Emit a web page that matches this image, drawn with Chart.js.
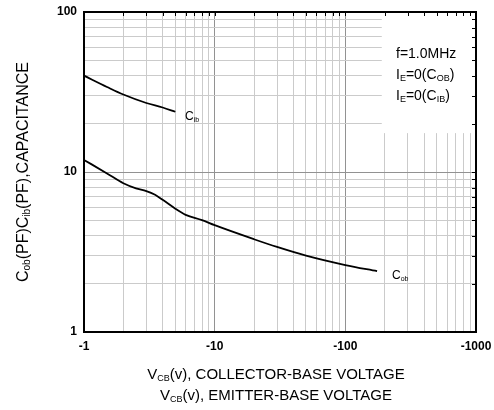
<!DOCTYPE html>
<html>
<head>
<meta charset="utf-8">
<script src="https://cdn.jsdelivr.net/npm/chart.js@4.4.0/dist/chart.umd.min.js"></script>
<style>
  body { margin: 0; background: #fff; }
  canvas { display: block; }
</style>
</head>
<body>
<canvas id="capChart" width="494" height="410"></canvas>
<script>
// reverse bias voltage (V) and capacitance (pF)
const vcbCib = [-1, -1.5, -2, -3, -4, -5];
const cib = [40, 34, 30.5, 27, 25.3, 23.8];

const vcbCob = [-1, -1.5, -2, -2.5, -3, -3.5, -4, -5, -6, -8, -10, -20, -30, -50, -100, -175];
const cob = [11.9, 9.8, 8.5, 7.9, 7.6, 7.2, 6.7, 5.9, 5.4, 5.0, 4.65, 3.8, 3.4, 3.0, 2.62, 2.4];

const xTicks = [1, 2, 3, 4, 5, 6, 7, 8, 9, 10, 20, 30, 40, 50, 60, 70, 80, 90, 100,
  200, 300, 400, 500, 600, 700, 800, 900, 1000];
const yTicks = [1, 2, 3, 4, 5, 6, 7, 8, 9, 10, 20, 30, 40, 50, 60, 70, 80, 90, 100];

const FONT = '"Liberation Sans", Arial, sans-serif';

const isDecade = v => Math.abs(Math.log10(v) - Math.round(Math.log10(v))) < 1e-9;
const toPoints = (xs, ys) => xs.map((x, i) => ({ x: Math.abs(x), y: ys[i] }));

// draw text made of [text, isSub] parts
const drawRich = (ctx, x, y, parts, size, align) => {
  const subSize = Math.round(size * 0.62);
  let total = 0;
  parts.forEach(p => {
    ctx.font = (p[1] ? subSize : size) + 'px ' + FONT;
    total += ctx.measureText(p[0]).width;
  });
  let cx = align === 'center' ? x - total / 2 : x;
  ctx.textAlign = 'left';
  ctx.textBaseline = 'alphabetic';
  parts.forEach(p => {
    ctx.font = (p[1] ? subSize : size) + 'px ' + FONT;
    ctx.fillText(p[0], cx, p[1] ? y + 2 : y);
    cx += ctx.measureText(p[0]).width;
  });
};

const framePlugin = {
  id: 'frame',
  beforeDatasetsDraw(chart) {
    const ctx = chart.ctx;
    const a = chart.chartArea;
    const xs = chart.scales.x, ys = chart.scales.y;
    ctx.save();
    // note box blanks out the grid in the top right corner
    const boxLeft = xs.getPixelForValue(190);
    ctx.fillStyle = '#fff';
    ctx.fillRect(boxLeft, a.top, a.right - boxLeft, ys.getPixelForValue(17.5) - a.top);
    ctx.strokeStyle = '#000';
    ctx.lineWidth = 1;
    ctx.beginPath();
    xTicks.forEach(v => {
      const px = Math.round(xs.getPixelForValue(v)) + 0.5;
      ctx.moveTo(px, a.top); ctx.lineTo(px, a.top + 4);
    });
    yTicks.forEach(v => {
      const py = Math.round(ys.getPixelForValue(v)) + 0.5;
      ctx.moveTo(a.right, py); ctx.lineTo(a.right - 4, py);
    });
    ctx.stroke();
    ctx.lineWidth = 2;
    ctx.strokeRect(a.left, a.top, a.right - a.left, a.bottom - a.top);
    ctx.restore();
  },
  afterDraw(chart) {
    const ctx = chart.ctx;
    const a = chart.chartArea;
    ctx.save();
    ctx.fillStyle = '#000';
    drawRich(ctx, 396, 58, [['f=1.0MHz', false]], 14);
    drawRich(ctx, 396, 79, [['I', false], ['E', true], ['=0(C', false], ['OB', true], [')', false]], 14);
    drawRich(ctx, 396, 100, [['I', false], ['E', true], ['=0(C', false], ['IB', true], [')', false]], 14);
    drawRich(ctx, 185, 120, [['C', false], ['ib', true]], 12);
    drawRich(ctx, 392, 279, [['C', false], ['ob', true]], 12);
    drawRich(ctx, 276, 379, [['V', false], ['CB', true], ['(v), COLLECTOR-BASE VOLTAGE', false]], 15, 'center');
    drawRich(ctx, 276, 400, [['V', false], ['CB', true], ['(v), EMITTER-BASE VOLTAGE', false]], 15, 'center');
    ctx.translate(28, (a.top + a.bottom) / 2);
    ctx.rotate(-Math.PI / 2);
    drawRich(ctx, 0, 0, [['C', false], ['ob', true], ['(PF)C', false], ['ib', true], ['(PF),CAPACITANCE', false]], 16, 'center');
    ctx.restore();
  }
};

const gridColor = c => (c.tick && isDecade(c.tick.value)) ? '#929292' : '#cbcbcb';

new Chart(document.getElementById('capChart'), {
  type: 'line',
  data: {
    datasets: [{
      label: 'Cib',
      data: toPoints(vcbCib, cib),
      borderColor: '#000',
      borderWidth: 1.8,
      pointRadius: 0,
      cubicInterpolationMode: 'monotone'
    }, {
      label: 'Cob',
      data: toPoints(vcbCob, cob),
      borderColor: '#000',
      borderWidth: 1.8,
      pointRadius: 0,
      cubicInterpolationMode: 'monotone'
    }]
  },
  options: {
    responsive: false,
    animation: false,
    layout: { padding: { left: 0, top: 12, right: 18, bottom: 0 } },
    plugins: { legend: { display: false }, tooltip: { enabled: false } },
    scales: {
      x: {
        type: 'logarithmic',
        min: 1,
        max: 1000,
        afterBuildTicks: s => { s.ticks = xTicks.map(v => ({ value: v, major: isDecade(v) })); },
        afterFit: s => { s.height = 78; s.paddingLeft = 0; s.paddingRight = 0; },
        border: { display: false },
        grid: { color: gridColor, lineWidth: 1, drawTicks: false },
        ticks: {
          autoSkip: false,
          maxRotation: 0,
          padding: 7,
          color: '#000',
          font: { family: FONT, size: 12, weight: 'bold' },
          callback: v => isDecade(v) ? '-' + v : ''
        }
      },
      y: {
        type: 'logarithmic',
        min: 1,
        max: 100,
        afterBuildTicks: s => { s.ticks = yTicks.map(v => ({ value: v, major: isDecade(v) })); },
        afterFit: s => { s.width = 84; s.paddingTop = 0; s.paddingBottom = 0; },
        border: { display: false },
        grid: { color: gridColor, lineWidth: 1, drawTicks: false },
        ticks: {
          autoSkip: false,
          padding: 7,
          color: '#000',
          font: { family: FONT, size: 12, weight: 'bold' },
          callback: v => isDecade(v) ? String(v) : ''
        }
      }
    }
  },
  plugins: [framePlugin]
});
</script>
</body>
</html>
